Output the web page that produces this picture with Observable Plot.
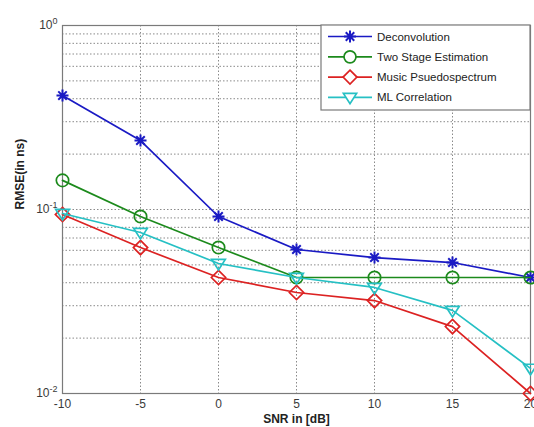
<!DOCTYPE html>
<html><head><meta charset="utf-8">
<script src="https://cdn.jsdelivr.net/npm/d3@7"></script>
<script src="https://cdn.jsdelivr.net/npm/@observablehq/plot@0.6"></script>
<style>
body{margin:0;background:#fff;}
#chart{width:534px;height:427px;overflow:hidden;background:#fff;}
</style>
</head><body><div id="chart"></div>
<script>
// ---- data ----
const snr = [-10, -5, 0, 5, 10, 15, 20];
const deconvolution = [0.416, 0.237, 0.0916, 0.0606, 0.0548, 0.0515, 0.0427];
const twoStage      = [0.144, 0.0916, 0.0621, 0.0427, 0.0427, 0.0427, 0.0427];
const music         = [0.0939, 0.0621, 0.0427, 0.0354, 0.0320, 0.0231, 0.0100];
const mlCorrelation = [0.0951, 0.0750, 0.0509, 0.0427, 0.0377, 0.0283, 0.0137];
const seriesNames = ["Deconvolution", "Two Stage Estimation", "Music Psuedospectrum", "ML Correlation"];
const xTicks = [-10, -5, 0, 5, 10, 15, 20];
const yTicks = [0.01, 0.1, 1];
const yTickLabels = ["10^-2", "10^-1", "10^0"];
const yGridTicks = [0.02,0.03,0.04,0.05,0.06,0.07,0.08,0.09,0.1,0.2,0.3,0.4,0.5,0.6,0.7,0.8,0.9];
const xLabel = "SNR in [dB]";
const yLabel = "RMSE(in ns)";

// ---- styles ----
const seriesColors = ["#1a1ac4", "#1c8a1c", "#dc2222", "#26c0c4"];
const asterisk = {draw(ctx, size){const r=Math.sqrt(size/Math.PI), d=r*Math.SQRT1_2;
  ctx.moveTo(-r,0);ctx.lineTo(r,0);ctx.moveTo(0,-r);ctx.lineTo(0,r);
  ctx.moveTo(-d,-d);ctx.lineTo(d,d);ctx.moveTo(-d,d);ctx.lineTo(d,-d);}};
const circleSym = {draw(ctx, size){const r=Math.sqrt(size/Math.PI); ctx.moveTo(r,0); ctx.arc(0,0,r,0,2*Math.PI);}};
const diamondSym = {draw(ctx, size){const r=Math.sqrt(size/Math.PI)*1.15;
  ctx.moveTo(0,-r);ctx.lineTo(r,0);ctx.lineTo(0,r);ctx.lineTo(-r,0);ctx.closePath();}};
const triDown = {draw(ctx, size){const r=Math.sqrt(size/Math.PI)*1.1;
  ctx.moveTo(-r,-r*0.6);ctx.lineTo(r,-r*0.6);ctx.lineTo(0,r*0.95);ctx.closePath();}};
const seriesSymbols = [asterisk, circleSym, diamondSym, triDown];
const seriesValues = [deconvolution, twoStage, music, mlCorrelation];

const seriesRows = seriesValues.map(vals => snr.map((s, i) => ({snr: s, rmse: vals[i]})));

const marks = [
  Plot.gridX(xTicks, {stroke: "#8a8a8a", strokeOpacity: 1, strokeDasharray: "1.5,2"}),
  Plot.gridY(yGridTicks, {stroke: "#8a8a8a", strokeOpacity: 1, strokeDasharray: "1.5,2"}),
  Plot.frame({stroke: "#7a7a7a", strokeWidth: 1.2}),
  Plot.axisX(xTicks, {tickSize: 0, tickPadding: 6, tickFormat: d => String(d), label: null, fontSize: 12, fill: "#3a3a3a"}),
  Plot.axisY(yTicks, {tickSize: 0, tickPadding: 5, tickFormat: d => yTickLabels[yTicks.indexOf(d)], label: null, fontSize: 12, fill: "#3a3a3a"}),
];
seriesRows.forEach((rows, k) => {
  marks.push(Plot.line(rows, {x: "snr", y: "rmse", stroke: seriesColors[k], strokeWidth: 1.7}));
  marks.push(Plot.dot(rows, {x: "snr", y: "rmse", stroke: seriesColors[k], fill: "none",
    symbol: seriesSymbols[k], r: k === 0 ? 6 : 6.2, strokeWidth: k === 0 ? 2 : 1.7}));
});
marks.push(Plot.text([xLabel], {frameAnchor: "bottom", dy: 29, fontWeight: "bold", fontSize: 12, fill: "#222"}));
marks.push(Plot.text([yLabel], {frameAnchor: "left", dx: -42, rotate: -90, fontWeight: "bold", fontSize: 12, fill: "#222"}));

const chart = Plot.plot({
  width: 534, height: 427,
  marginLeft: 62, marginRight: 4, marginTop: 25, marginBottom: 34,
  x: {domain: [-10, 20]},
  y: {type: "log", domain: [0.01, 1]},
  style: {fontFamily: "'Liberation Sans', Arial, sans-serif", background: "#fff", overflow: "visible"},
  marks
});
document.getElementById("chart").appendChild(chart);

// superscript exponents on y tick labels
const svg = d3.select(chart);
svg.selectAll('g[aria-label="y-axis tick label"] text').each(function() {
  const t = d3.select(this);
  const s = t.text();
  const [base, exp] = s.split("^");
  t.text(base);
  t.append("tspan").attr("dy", "-0.55em").attr("font-size", "9px").text(exp);
});

// legend
const lg = svg.append("g").attr("font-family", "'Liberation Sans', Arial, sans-serif")
  .attr("font-size", 11.5).attr("text-anchor", "start");
lg.append("rect").attr("x", 321).attr("y", 25).attr("width", 209).attr("height", 85)
  .attr("fill", "#fff").attr("stroke", "#7a7a7a").attr("stroke-width", 1.2);
seriesNames.forEach((name, k) => {
  const yy = 36.5 + k * 20.3;
  lg.append("line").attr("x1", 328).attr("x2", 372).attr("y1", yy).attr("y2", yy)
    .attr("stroke", seriesColors[k]).attr("stroke-width", 1.7);
  lg.append("path").attr("transform", `translate(350,${yy})`)
    .attr("d", d3.symbol(seriesSymbols[k], Math.PI * 36)())
    .attr("fill", "#fff").attr("stroke", seriesColors[k]).attr("stroke-width", k === 0 ? 2 : 1.7);
  lg.append("text").attr("x", 377).attr("y", yy).attr("dy", "0.35em")
    .attr("text-anchor", "start").attr("fill", "#222").text(name);
});
</script>
</body></html>
